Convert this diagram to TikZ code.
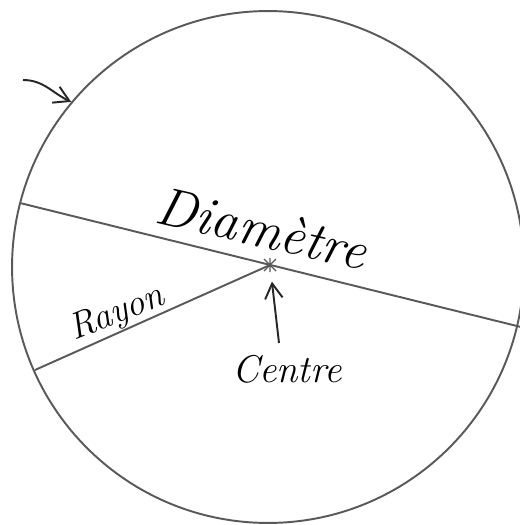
\documentclass[tikz,border=0pt]{standalone}
\usepackage{tikz}
\usetikzlibrary{arrows.meta, positioning, calc}

\begin{document}
\begin{tikzpicture}[
  x=0.02cm, y=-0.02cm,
  trait/.style={draw=black!65, line width=1.1pt},
  arr/.style={-{Straight Barb[length=3mm, width=3.5mm]}, line width=1.1pt, draw=black!85},
  hand/.style={font=\itshape, text=black, inner sep=1pt},
]
\useasboundingbox (0,0) rectangle (520,525);

% Cercle
\node[circle, trait, minimum size=10.24cm, inner sep=0pt] (disc) at (268,267) {};

% Points
\coordinate (c) at (270,265);
\coordinate (dl) at (20,203);
\coordinate (dr) at (521,327);
\coordinate (rl) at (35,370);
\coordinate (tl) at (23,80);
\coordinate (ca) at (279,343);

% Diametre et rayon
\draw[trait] (dl) -- (dr);
\draw[trait] (rl) -- (c);

% Marque du centre
\draw[trait, line width=0.7pt] ($(c)+(-6,-6)$) -- ($(c)+(6,6)$)
  ($(c)+(-6,6)$) -- ($(c)+(6,-6)$) ($(c)+(0,-7)$) -- ($(c)+(0,7)$);

% Textes
\node[hand, font=\itshape\fontsize{31}{36}\selectfont, rotate=-13] (diam) at (262,228) {Diamètre};
\node[hand, font=\itshape\fontsize{21}{26}\selectfont, rotate=22] (rayon) at (117,314) {Rayon};
\node[hand, font=\itshape\fontsize{22}{26}\selectfont] (centre) at (287,369) {Centre};

% Fleches
\draw[arr] (tl) to[out=0, in=155] (disc.140);
\draw[arr, shorten >=9.5pt] (ca) -- (c);

\end{tikzpicture}
\end{document}
